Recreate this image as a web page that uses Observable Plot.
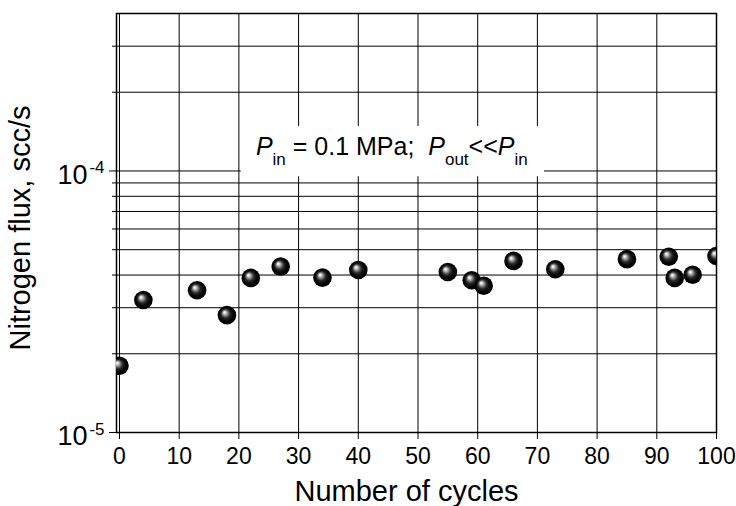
<!DOCTYPE html>
<html><head><meta charset="utf-8">
<script src="https://cdn.jsdelivr.net/npm/d3@7"></script>
<script src="https://cdn.jsdelivr.net/npm/@observablehq/plot@0.6"></script>
<style>body{margin:0;background:#fff} svg{display:block}</style>
</head><body><div id="chart"></div>
<script>
// ---- data ----
const cycles = [0, 4, 13, 18, 22, 27, 34, 40, 55, 59, 61, 66, 73, 85, 92, 93, 96, 100];
const flux = [1.80e-5, 3.21e-5, 3.50e-5, 2.81e-5, 3.90e-5, 4.31e-5, 3.91e-5, 4.18e-5, 4.11e-5,
              3.82e-5, 3.64e-5, 4.53e-5, 4.21e-5, 4.60e-5, 4.70e-5, 3.90e-5, 4.01e-5, 4.73e-5];
const xTicks = [0, 10, 20, 30, 40, 50, 60, 70, 80, 90, 100];
const yMajor = [1e-5, 1e-4];
const yBase = ["10", "10"];
const yExponents = ["-5", "-4"];
const yMinor = [2e-5, 3e-5, 4e-5, 5e-5, 6e-5, 7e-5, 8e-5, 9e-5, 2e-4, 3e-4];
const yGrid = [2e-5, 3e-5, 4e-5, 5e-5, 6e-5, 7e-5, 8e-5, 9e-5, 1e-4, 2e-4, 3e-4];
const xTitle = ["Number of cycles"];
const yTitle = ["Nitrogen flux, scc/s"];
const noteParts = [
  {t: "P", italic: true}, {t: "in", sub: true}, {t: " = 0.1 MPa;  "},
  {t: "P", italic: true}, {t: "out", sub: true}, {t: "<<"},
  {t: "P", italic: true}, {t: "in", sub: true}
];
const noteBox = [{x1: 20.4, x2: 71.2, y1: 9.5e-5, y2: 1.48e-4}];
const notePos = {x: 45.7, y: 1.143e-4};

const data = cycles.map((c, i) => ({c, f: flux[i]}));
const FONT = "'Liberation Sans', Arial, Helvetica, sans-serif";

function defsMark() {
  const g = d3.create("svg:g");
  const grad = g.append("defs").append("radialGradient")
    .attr("id", "ball").attr("cx", 0.5).attr("cy", 0.5).attr("r", 0.5)
    .attr("fx", 0.36).attr("fy", 0.34);
  [[0, "#ffffff"], [0.1, "#e6e6e6"], [0.28, "#8c8c8c"], [0.48, "#2c2c2c"], [0.72, "#060606"], [1, "#000000"]]
    .forEach(([o, c]) => grad.append("stop").attr("offset", o).attr("stop-color", c));
  return g.node();
}

function noteMark(index, scales) {
  const g = d3.create("svg:g");
  const x = scales.x(notePos.x), y = scales.y(notePos.y);
  const t = g.append("text").attr("x", x).attr("y", y)
    .attr("text-anchor", "middle").attr("font-family", FONT).attr("font-size", 25)
    .attr("fill", "#000").style("white-space", "pre");
  let shifted = 0;
  for (const p of noteParts) {
    const s = t.append("tspan").text(p.t);
    if (p.sub) { s.attr("font-size", 17).attr("dy", 10 - shifted); shifted = 10; }
    else { if (shifted) s.attr("dy", -shifted); shifted = 0; }
    if (p.italic) s.attr("font-style", "italic");
  }
  return g.node();
}

const plot = Plot.plot({
  width: 736,
  height: 506,
  marginLeft: 116,
  marginRight: 20,
  marginTop: 13,
  marginBottom: 74,
  style: {fontFamily: FONT, fontSize: "22px", color: "#000", background: "#fff"},
  x: {domain: [-0.5, 100]},
  y: {type: "log", domain: [1e-5, 4e-4]},
  marks: [
    defsMark,
    Plot.gridX(xTicks, {stroke: "#000", strokeOpacity: 1, strokeWidth: 1}),
    Plot.gridY(yGrid, {stroke: "#000", strokeOpacity: 1, strokeWidth: 1}),
    Plot.rect(noteBox, {x1: "x1", x2: "x2", y1: "y1", y2: "y2", fill: "#fff"}),
    Plot.axisX(xTicks, {tickSize: 7, tickPadding: 8, fontSize: 23, label: null, tickFormat: d => String(d)}),
    Plot.axisY(yMajor, {tickSize: 7, tickFormat: () => "", label: null}),
    Plot.axisY(yMinor, {tickSize: 4, tickFormat: () => "", label: null}),
    Plot.text(yMajor, {y: d => d, frameAnchor: "left", text: (d, i) => yBase[i], textAnchor: "end",
      dx: -29, dy: 4, fontSize: 27, lineAnchor: "middle"}),
    Plot.text(yMajor, {y: d => d, frameAnchor: "left", text: (d, i) => yExponents[i], textAnchor: "end",
      dx: -12, dy: -3, fontSize: 17, lineAnchor: "middle"}),
    Plot.text(xTitle, {frameAnchor: "bottom", text: d => d, textAnchor: "middle", dx: -10, dy: 68, fontSize: 29, lineAnchor: "bottom"}),
    Plot.text(yTitle, {frameAnchor: "left", text: d => d, textAnchor: "middle", rotate: -90, dx: -107, dy: 5, fontSize: 29, lineAnchor: "top"}),
    Plot.frame({stroke: "#000", strokeWidth: 1.5}),
    Plot.dot(data, {x: "c", y: "f", r: 9.3, fill: "url(#ball)", stroke: "none", clip: true}),
    noteMark
  ]
});
document.getElementById("chart").append(plot);
</script>
</body></html>
